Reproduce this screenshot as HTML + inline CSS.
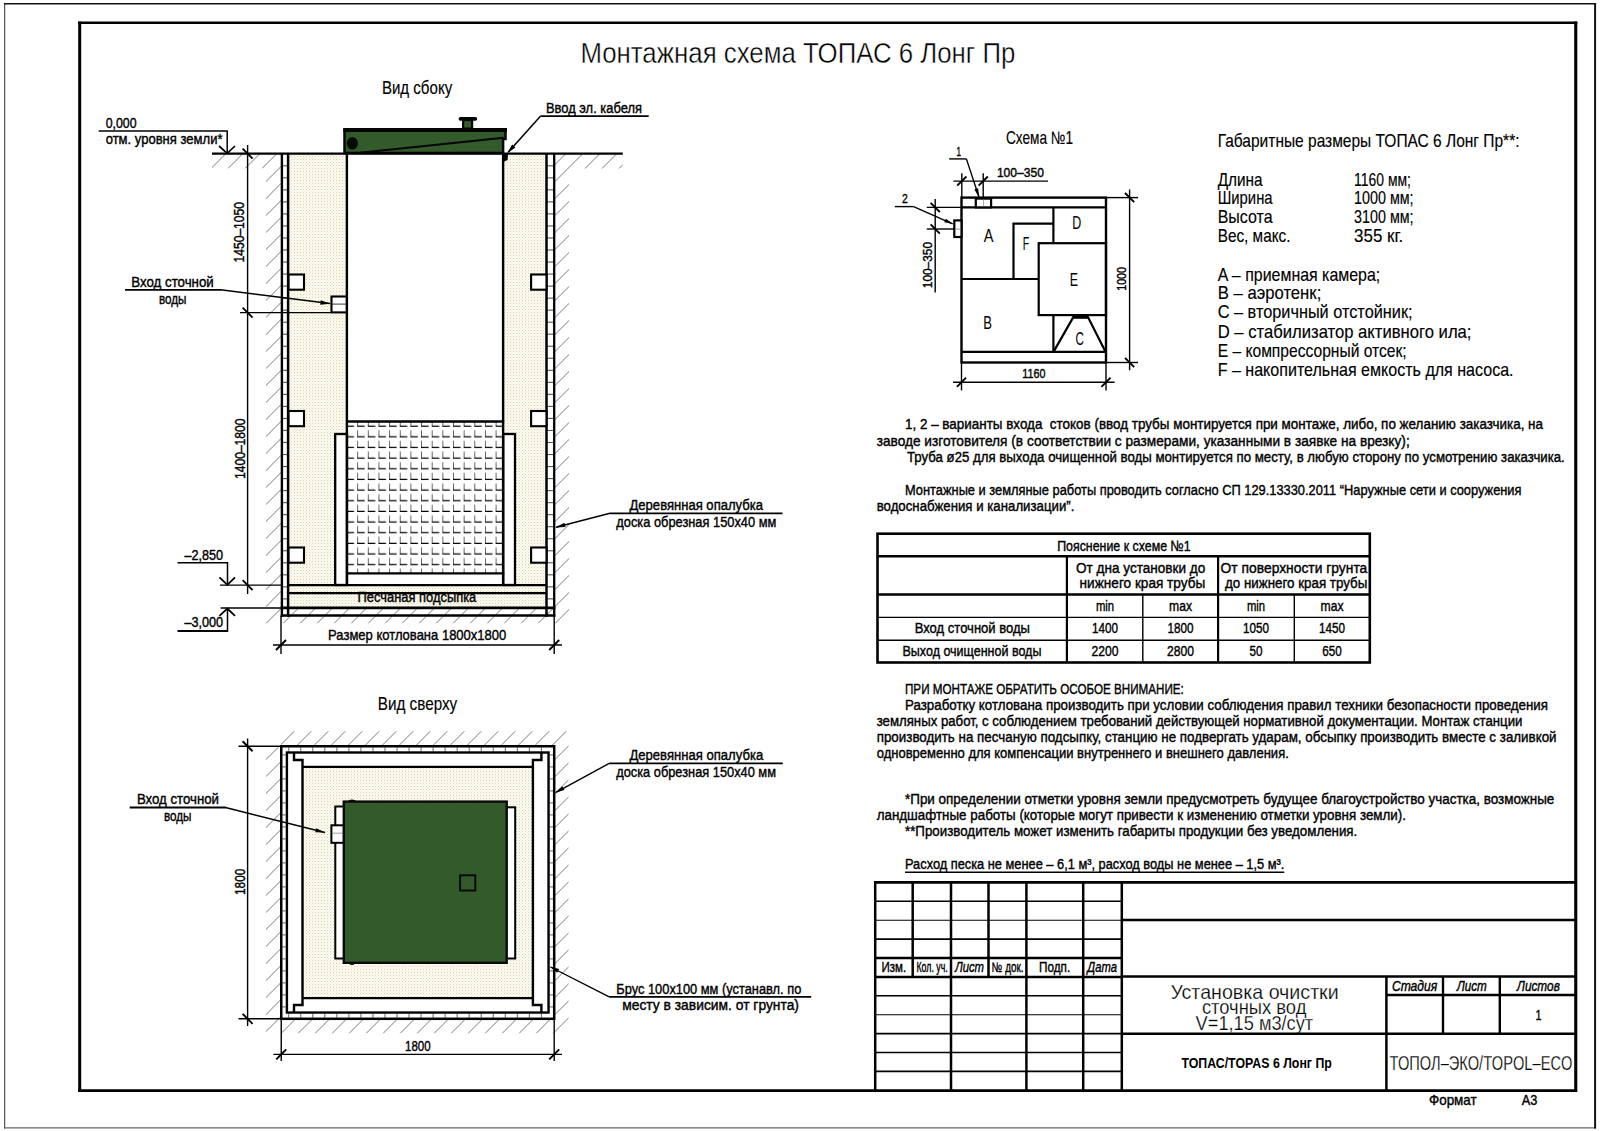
<!DOCTYPE html>
<html lang="ru"><head><meta charset="utf-8"><title>Монтажная схема ТОПАС 6 Лонг Пр</title>
<style>
html,body{margin:0;padding:0;background:#fff;}
body{width:1600px;height:1131px;overflow:hidden;}
svg{display:block;}
text{font-family:"Liberation Sans",sans-serif;fill:#000;stroke:#000;stroke-width:0.4px;}
text.thin{stroke:#fff;stroke-width:0.4px;}
text.thin2{stroke:#fff;stroke-width:0.25px;}
text.mid{stroke:none;}
text.s16{stroke-width:0.15px;}
</style></head><body>
<svg width="1600" height="1131" viewBox="0 0 1600 1131">
<defs>
<pattern id="sand" width="3" height="3" patternUnits="userSpaceOnUse">
<rect width="3" height="3" fill="#fcfbf3"/>
<rect x="0" y="0" width="1" height="1" fill="#d9d5a8"/>
<rect x="1.5" y="1.5" width="1" height="1" fill="#e8e5c6"/>
</pattern>
<pattern id="water" width="10.65" height="10.65" patternUnits="userSpaceOnUse" x="346.5" y="426.8">
<path d="M0,3.4 V10.65 M0,10.15 H7.5" stroke="#000" stroke-width="1.2" fill="none"/>
</pattern>
</defs>
<line x1="4.65" y1="3" x2="4.65" y2="1128.5" stroke="#444" stroke-width="1.1" />
<line x1="4.1" y1="1127.9" x2="1596" y2="1127.9" stroke="#666" stroke-width="1.2" />
<line x1="4.1" y1="3.8" x2="1596.1" y2="3.8" stroke="#111" stroke-width="1.6" />
<line x1="1595.1" y1="3" x2="1595.1" y2="1128.5" stroke="#111" stroke-width="2" />
<line x1="79.7" y1="21.4" x2="79.7" y2="1092" stroke="#000" stroke-width="3" />
<line x1="1575.75" y1="21.4" x2="1575.75" y2="1092" stroke="#000" stroke-width="3.1" />
<line x1="78.2" y1="22.7" x2="1577.3" y2="22.7" stroke="#000" stroke-width="2.6" />
<line x1="78.1" y1="1090.6" x2="1577" y2="1090.6" stroke="#000" stroke-width="2.8" />
<clipPath id="h1">
<rect x="212" y="153.6" width="69" height="14.6"/>
<rect x="266" y="153.6" width="15" height="470"/>
<rect x="266" y="608" width="302.5" height="15.3"/>
<rect x="555" y="153.6" width="14" height="470"/>
<rect x="555" y="153.6" width="67.6" height="14.8"/>
</clipPath>
<g clip-path="url(#h1)" stroke="#6a6a6a" stroke-width="0.9">
<line x1="178.5" y1="150" x2="-301.5" y2="630"/>
<line x1="195.5" y1="150" x2="-284.5" y2="630"/>
<line x1="212.5" y1="150" x2="-267.5" y2="630"/>
<line x1="229.5" y1="150" x2="-250.5" y2="630"/>
<line x1="246.5" y1="150" x2="-233.5" y2="630"/>
<line x1="263.5" y1="150" x2="-216.5" y2="630"/>
<line x1="280.5" y1="150" x2="-199.5" y2="630"/>
<line x1="297.5" y1="150" x2="-182.5" y2="630"/>
<line x1="314.5" y1="150" x2="-165.5" y2="630"/>
<line x1="331.5" y1="150" x2="-148.5" y2="630"/>
<line x1="348.5" y1="150" x2="-131.5" y2="630"/>
<line x1="365.5" y1="150" x2="-114.5" y2="630"/>
<line x1="382.5" y1="150" x2="-97.5" y2="630"/>
<line x1="399.5" y1="150" x2="-80.5" y2="630"/>
<line x1="416.5" y1="150" x2="-63.5" y2="630"/>
<line x1="433.5" y1="150" x2="-46.5" y2="630"/>
<line x1="450.5" y1="150" x2="-29.5" y2="630"/>
<line x1="467.5" y1="150" x2="-12.5" y2="630"/>
<line x1="484.5" y1="150" x2="4.5" y2="630"/>
<line x1="501.5" y1="150" x2="21.5" y2="630"/>
<line x1="518.5" y1="150" x2="38.5" y2="630"/>
<line x1="535.5" y1="150" x2="55.5" y2="630"/>
<line x1="552.5" y1="150" x2="72.5" y2="630"/>
<line x1="569.5" y1="150" x2="89.5" y2="630"/>
<line x1="586.5" y1="150" x2="106.5" y2="630"/>
<line x1="603.5" y1="150" x2="123.5" y2="630"/>
<line x1="620.5" y1="150" x2="140.5" y2="630"/>
<line x1="637.5" y1="150" x2="157.5" y2="630"/>
<line x1="654.5" y1="150" x2="174.5" y2="630"/>
<line x1="671.5" y1="150" x2="191.5" y2="630"/>
<line x1="688.5" y1="150" x2="208.5" y2="630"/>
<line x1="705.5" y1="150" x2="225.5" y2="630"/>
<line x1="722.5" y1="150" x2="242.5" y2="630"/>
<line x1="739.5" y1="150" x2="259.5" y2="630"/>
<line x1="756.5" y1="150" x2="276.5" y2="630"/>
<line x1="773.5" y1="150" x2="293.5" y2="630"/>
<line x1="790.5" y1="150" x2="310.5" y2="630"/>
<line x1="807.5" y1="150" x2="327.5" y2="630"/>
<line x1="824.5" y1="150" x2="344.5" y2="630"/>
<line x1="841.5" y1="150" x2="361.5" y2="630"/>
<line x1="858.5" y1="150" x2="378.5" y2="630"/>
<line x1="875.5" y1="150" x2="395.5" y2="630"/>
<line x1="892.5" y1="150" x2="412.5" y2="630"/>
<line x1="909.5" y1="150" x2="429.5" y2="630"/>
<line x1="926.5" y1="150" x2="446.5" y2="630"/>
<line x1="943.5" y1="150" x2="463.5" y2="630"/>
<line x1="960.5" y1="150" x2="480.5" y2="630"/>
<line x1="977.5" y1="150" x2="497.5" y2="630"/>
<line x1="994.5" y1="150" x2="514.5" y2="630"/>
<line x1="1011.5" y1="150" x2="531.5" y2="630"/>
<line x1="1028.5" y1="150" x2="548.5" y2="630"/>
<line x1="1045.5" y1="150" x2="565.5" y2="630"/>
<line x1="1062.5" y1="150" x2="582.5" y2="630"/>
<line x1="1079.5" y1="150" x2="599.5" y2="630"/>
<line x1="1096.5" y1="150" x2="616.5" y2="630"/>
<line x1="1113.5" y1="150" x2="633.5" y2="630"/>
<line x1="1130.5" y1="150" x2="650.5" y2="630"/>
</g>
<rect x="288" y="153.6" width="59" height="432" fill="url(#sand)"  />
<rect x="503" y="153.6" width="44" height="432" fill="url(#sand)"  />
<rect x="288" y="585" width="259" height="23" fill="url(#sand)"  />
<rect x="347" y="153.6" width="156" height="432" fill="#fff"  />
<rect x="347" y="421.5" width="156" height="152" fill="url(#water)"  />
<line x1="282" y1="165.8" x2="288" y2="165.8" stroke="#555" stroke-width="1.1" />
<line x1="546.5" y1="165.8" x2="554" y2="165.8" stroke="#555" stroke-width="1.1" />
<line x1="282" y1="177.83" x2="288" y2="177.83" stroke="#555" stroke-width="1.1" />
<line x1="546.5" y1="177.83" x2="554" y2="177.83" stroke="#555" stroke-width="1.1" />
<line x1="282" y1="189.86" x2="288" y2="189.86" stroke="#555" stroke-width="1.1" />
<line x1="546.5" y1="189.86" x2="554" y2="189.86" stroke="#555" stroke-width="1.1" />
<line x1="282" y1="201.89000000000001" x2="288" y2="201.89000000000001" stroke="#555" stroke-width="1.1" />
<line x1="546.5" y1="201.89000000000001" x2="554" y2="201.89000000000001" stroke="#555" stroke-width="1.1" />
<line x1="282" y1="213.92000000000002" x2="288" y2="213.92000000000002" stroke="#555" stroke-width="1.1" />
<line x1="546.5" y1="213.92000000000002" x2="554" y2="213.92000000000002" stroke="#555" stroke-width="1.1" />
<line x1="282" y1="225.95000000000002" x2="288" y2="225.95000000000002" stroke="#555" stroke-width="1.1" />
<line x1="546.5" y1="225.95000000000002" x2="554" y2="225.95000000000002" stroke="#555" stroke-width="1.1" />
<line x1="282" y1="237.98000000000002" x2="288" y2="237.98000000000002" stroke="#555" stroke-width="1.1" />
<line x1="546.5" y1="237.98000000000002" x2="554" y2="237.98000000000002" stroke="#555" stroke-width="1.1" />
<line x1="282" y1="250.01" x2="288" y2="250.01" stroke="#555" stroke-width="1.1" />
<line x1="546.5" y1="250.01" x2="554" y2="250.01" stroke="#555" stroke-width="1.1" />
<line x1="282" y1="262.04" x2="288" y2="262.04" stroke="#555" stroke-width="1.1" />
<line x1="546.5" y1="262.04" x2="554" y2="262.04" stroke="#555" stroke-width="1.1" />
<line x1="282" y1="274.07" x2="288" y2="274.07" stroke="#555" stroke-width="1.1" />
<line x1="546.5" y1="274.07" x2="554" y2="274.07" stroke="#555" stroke-width="1.1" />
<line x1="282" y1="286.1" x2="288" y2="286.1" stroke="#555" stroke-width="1.1" />
<line x1="546.5" y1="286.1" x2="554" y2="286.1" stroke="#555" stroke-width="1.1" />
<line x1="282" y1="298.13" x2="288" y2="298.13" stroke="#555" stroke-width="1.1" />
<line x1="546.5" y1="298.13" x2="554" y2="298.13" stroke="#555" stroke-width="1.1" />
<line x1="282" y1="310.15999999999997" x2="288" y2="310.15999999999997" stroke="#555" stroke-width="1.1" />
<line x1="546.5" y1="310.15999999999997" x2="554" y2="310.15999999999997" stroke="#555" stroke-width="1.1" />
<line x1="282" y1="322.19" x2="288" y2="322.19" stroke="#555" stroke-width="1.1" />
<line x1="546.5" y1="322.19" x2="554" y2="322.19" stroke="#555" stroke-width="1.1" />
<line x1="282" y1="334.22" x2="288" y2="334.22" stroke="#555" stroke-width="1.1" />
<line x1="546.5" y1="334.22" x2="554" y2="334.22" stroke="#555" stroke-width="1.1" />
<line x1="282" y1="346.25" x2="288" y2="346.25" stroke="#555" stroke-width="1.1" />
<line x1="546.5" y1="346.25" x2="554" y2="346.25" stroke="#555" stroke-width="1.1" />
<line x1="282" y1="358.28" x2="288" y2="358.28" stroke="#555" stroke-width="1.1" />
<line x1="546.5" y1="358.28" x2="554" y2="358.28" stroke="#555" stroke-width="1.1" />
<line x1="282" y1="370.31" x2="288" y2="370.31" stroke="#555" stroke-width="1.1" />
<line x1="546.5" y1="370.31" x2="554" y2="370.31" stroke="#555" stroke-width="1.1" />
<line x1="282" y1="382.34000000000003" x2="288" y2="382.34000000000003" stroke="#555" stroke-width="1.1" />
<line x1="546.5" y1="382.34000000000003" x2="554" y2="382.34000000000003" stroke="#555" stroke-width="1.1" />
<line x1="282" y1="394.37" x2="288" y2="394.37" stroke="#555" stroke-width="1.1" />
<line x1="546.5" y1="394.37" x2="554" y2="394.37" stroke="#555" stroke-width="1.1" />
<line x1="282" y1="406.4" x2="288" y2="406.4" stroke="#555" stroke-width="1.1" />
<line x1="546.5" y1="406.4" x2="554" y2="406.4" stroke="#555" stroke-width="1.1" />
<line x1="282" y1="418.43" x2="288" y2="418.43" stroke="#555" stroke-width="1.1" />
<line x1="546.5" y1="418.43" x2="554" y2="418.43" stroke="#555" stroke-width="1.1" />
<line x1="282" y1="430.46" x2="288" y2="430.46" stroke="#555" stroke-width="1.1" />
<line x1="546.5" y1="430.46" x2="554" y2="430.46" stroke="#555" stroke-width="1.1" />
<line x1="282" y1="442.49" x2="288" y2="442.49" stroke="#555" stroke-width="1.1" />
<line x1="546.5" y1="442.49" x2="554" y2="442.49" stroke="#555" stroke-width="1.1" />
<line x1="282" y1="454.52" x2="288" y2="454.52" stroke="#555" stroke-width="1.1" />
<line x1="546.5" y1="454.52" x2="554" y2="454.52" stroke="#555" stroke-width="1.1" />
<line x1="282" y1="466.55" x2="288" y2="466.55" stroke="#555" stroke-width="1.1" />
<line x1="546.5" y1="466.55" x2="554" y2="466.55" stroke="#555" stroke-width="1.1" />
<line x1="282" y1="478.58" x2="288" y2="478.58" stroke="#555" stroke-width="1.1" />
<line x1="546.5" y1="478.58" x2="554" y2="478.58" stroke="#555" stroke-width="1.1" />
<line x1="282" y1="490.61" x2="288" y2="490.61" stroke="#555" stroke-width="1.1" />
<line x1="546.5" y1="490.61" x2="554" y2="490.61" stroke="#555" stroke-width="1.1" />
<line x1="282" y1="502.64" x2="288" y2="502.64" stroke="#555" stroke-width="1.1" />
<line x1="546.5" y1="502.64" x2="554" y2="502.64" stroke="#555" stroke-width="1.1" />
<line x1="282" y1="514.6700000000001" x2="288" y2="514.6700000000001" stroke="#555" stroke-width="1.1" />
<line x1="546.5" y1="514.6700000000001" x2="554" y2="514.6700000000001" stroke="#555" stroke-width="1.1" />
<line x1="282" y1="526.7" x2="288" y2="526.7" stroke="#555" stroke-width="1.1" />
<line x1="546.5" y1="526.7" x2="554" y2="526.7" stroke="#555" stroke-width="1.1" />
<line x1="282" y1="538.73" x2="288" y2="538.73" stroke="#555" stroke-width="1.1" />
<line x1="546.5" y1="538.73" x2="554" y2="538.73" stroke="#555" stroke-width="1.1" />
<line x1="282" y1="550.76" x2="288" y2="550.76" stroke="#555" stroke-width="1.1" />
<line x1="546.5" y1="550.76" x2="554" y2="550.76" stroke="#555" stroke-width="1.1" />
<line x1="282" y1="562.79" x2="288" y2="562.79" stroke="#555" stroke-width="1.1" />
<line x1="546.5" y1="562.79" x2="554" y2="562.79" stroke="#555" stroke-width="1.1" />
<line x1="282" y1="574.8199999999999" x2="288" y2="574.8199999999999" stroke="#555" stroke-width="1.1" />
<line x1="546.5" y1="574.8199999999999" x2="554" y2="574.8199999999999" stroke="#555" stroke-width="1.1" />
<line x1="282" y1="586.8499999999999" x2="288" y2="586.8499999999999" stroke="#555" stroke-width="1.1" />
<line x1="546.5" y1="586.8499999999999" x2="554" y2="586.8499999999999" stroke="#555" stroke-width="1.1" />
<line x1="282" y1="598.88" x2="288" y2="598.88" stroke="#555" stroke-width="1.1" />
<line x1="546.5" y1="598.88" x2="554" y2="598.88" stroke="#555" stroke-width="1.1" />
<line x1="281.9" y1="153" x2="281.9" y2="616.8" stroke="#000" stroke-width="2.4" />
<line x1="288.1" y1="153" x2="288.1" y2="616.8" stroke="#000" stroke-width="2.5" />
<line x1="546.5" y1="153" x2="546.5" y2="616.8" stroke="#000" stroke-width="2.5" />
<line x1="554.2" y1="153" x2="554.2" y2="616.8" stroke="#000" stroke-width="2.3" />
<line x1="288" y1="585.1" x2="547" y2="585.1" stroke="#000" stroke-width="2.4" />
<line x1="288" y1="593.1" x2="547" y2="593.1" stroke="#000" stroke-width="2.4" />
<line x1="280.7" y1="607.9" x2="555.4" y2="607.9" stroke="#000" stroke-width="2.8" />
<line x1="280.7" y1="615.6" x2="555.4" y2="615.6" stroke="#000" stroke-width="2.5" />
<rect x="335.2" y="434" width="11.8" height="151" fill="#fff" stroke="#000" stroke-width="2.3" />
<rect x="503.2" y="434" width="11.8" height="151" fill="#fff" stroke="#000" stroke-width="2.3" />
<line x1="346.9" y1="153" x2="346.9" y2="585.5" stroke="#000" stroke-width="2.4" />
<line x1="503.1" y1="153" x2="503.1" y2="585.5" stroke="#000" stroke-width="2.4" />
<line x1="346" y1="421.5" x2="504.2" y2="421.5" stroke="#000" stroke-width="2.6" />
<line x1="346" y1="573.4" x2="504.2" y2="573.4" stroke="#000" stroke-width="2.2" />
<rect x="288.6" y="274.5" width="15.4" height="15.2" fill="#fff" stroke="#000" stroke-width="2.1" />
<rect x="531.1" y="274.5" width="15.4" height="15.2" fill="#fff" stroke="#000" stroke-width="2.1" />
<rect x="288.6" y="411" width="15.4" height="15.2" fill="#fff" stroke="#000" stroke-width="2.1" />
<rect x="531.1" y="411" width="15.4" height="15.2" fill="#fff" stroke="#000" stroke-width="2.1" />
<rect x="288.6" y="547.5" width="15.4" height="15.2" fill="#fff" stroke="#000" stroke-width="2.1" />
<rect x="531.1" y="547.5" width="15.4" height="15.2" fill="#fff" stroke="#000" stroke-width="2.1" />
<rect x="331.5" y="296.5" width="15.2" height="15.9" fill="#fff" stroke="#000" stroke-width="2.1" />
<line x1="332" y1="304.1" x2="346" y2="304.1" stroke="#222" stroke-width="0.9" />
<path d="M344.5,153 V129.6 H505.5 V139 H503.1 V153 Z" fill="#335a2a" stroke="#050505" stroke-width="2.5"/>
<line x1="343.3" y1="130" x2="507" y2="130" stroke="#050505" stroke-width="4" />
<line x1="360" y1="152.8" x2="503.6" y2="137.85" stroke="#050505" stroke-width="2" />
<ellipse cx="352.4" cy="143.2" rx="5.5" ry="6.3" fill="#050a05"/>
<rect x="463.1" y="120" width="9" height="8.6" fill="#335a2a" stroke="#050505" stroke-width="2.2" />
<line x1="460.4" y1="118.9" x2="475.4" y2="118.9" stroke="#050505" stroke-width="3.6" stroke-linecap="round"/>
<line x1="212" y1="153.6" x2="622.8" y2="153.6" stroke="#000" stroke-width="2.4" />
<path d="M503.2,154 V162 L507.6,160 L508,154 Z" fill="#000"/>
<line x1="247.6" y1="145" x2="247.6" y2="594" stroke="#000" stroke-width="1.4" />
<line x1="240" y1="312.6" x2="331" y2="312.6" stroke="#000" stroke-width="1.4" />
<line x1="220" y1="585.1" x2="281" y2="585.1" stroke="#000" stroke-width="1.4" />
<line x1="242.6" y1="148.6" x2="252.6" y2="158.6" stroke="#000" stroke-width="1.9" />
<line x1="242.6" y1="307.6" x2="252.6" y2="317.6" stroke="#000" stroke-width="1.9" />
<line x1="242.6" y1="580.1" x2="252.6" y2="590.1" stroke="#000" stroke-width="1.9" />
<text x="244.3" y="262.5" font-size="14.4" transform="rotate(-90 244.3 262.5)" textLength="60.5" lengthAdjust="spacingAndGlyphs">1450–1050</text>
<text x="244.5" y="479" font-size="14.4" transform="rotate(-90 244.5 479)" textLength="60.5" lengthAdjust="spacingAndGlyphs">1400–1800</text>
<text x="105.7" y="127.6" font-size="14.4" textLength="30.9" lengthAdjust="spacingAndGlyphs" >0,000</text>
<line x1="98.7" y1="131" x2="227.8" y2="131" stroke="#000" stroke-width="1.5" />
<line x1="227.2" y1="131" x2="227.2" y2="153" stroke="#000" stroke-width="1.5" />
<polyline points="219,146 227.2,153.4 235,146" fill="none" stroke="#000" stroke-width="1.7" />
<text x="105.7" y="144.2" font-size="14.9" textLength="116.8" lengthAdjust="spacingAndGlyphs" >отм. уровня земли*</text>
<text x="184.4" y="559.7" font-size="14.4" textLength="38.7" lengthAdjust="spacingAndGlyphs" >–2,850</text>
<line x1="177.5" y1="562.8" x2="228.2" y2="562.8" stroke="#000" stroke-width="1.5" />
<line x1="227.5" y1="562.8" x2="227.5" y2="584.5" stroke="#000" stroke-width="1.5" />
<polyline points="219.4,577.3 227.4,584.8 235,577.3" fill="none" stroke="#000" stroke-width="1.8" />
<line x1="220.6" y1="608" x2="281" y2="608" stroke="#000" stroke-width="1.4" />
<polyline points="219.4,615.8 227.4,608.5 235,615.8" fill="none" stroke="#000" stroke-width="1.8" />
<line x1="227.5" y1="608.5" x2="227.5" y2="631" stroke="#000" stroke-width="1.5" />
<line x1="177.5" y1="631" x2="228.2" y2="631" stroke="#000" stroke-width="1.8" />
<text x="184.4" y="627.3" font-size="14.4" textLength="38.7" lengthAdjust="spacingAndGlyphs" >–3,000</text>
<line x1="273" y1="645" x2="562" y2="645" stroke="#000" stroke-width="1.4" />
<line x1="281" y1="616" x2="281" y2="654" stroke="#000" stroke-width="1.4" />
<line x1="554.2" y1="616" x2="554.2" y2="654" stroke="#000" stroke-width="1.4" />
<line x1="276" y1="650" x2="286" y2="640" stroke="#000" stroke-width="1.9" />
<line x1="549.2" y1="650" x2="559.2" y2="640" stroke="#000" stroke-width="1.9" />
<text x="328.1" y="639.8" font-size="14.9" textLength="178.2" lengthAdjust="spacingAndGlyphs" >Размер котлована 1800х1800</text>
<text x="357.5" y="602" font-size="14.9" textLength="118.8" lengthAdjust="spacingAndGlyphs" >Песчаная подсыпка</text>
<text x="381.9" y="93.5" font-size="17.7" textLength="70.3" lengthAdjust="spacingAndGlyphs" class="s16" >Вид сбоку</text>
<text x="546" y="112.7" font-size="14.9" textLength="95.9" lengthAdjust="spacingAndGlyphs" >Ввод эл. кабеля</text>
<line x1="540.4" y1="116.2" x2="648.7" y2="116.2" stroke="#000" stroke-width="1.7" />
<line x1="540.4" y1="116.2" x2="508.2" y2="152.2" stroke="#000" stroke-width="1.5" />
<path d="M507.40,153.10 L515.37,147.49 L512.09,144.55 Z" fill="#000"/>
<text x="131.2" y="286.8" font-size="14.9" textLength="82.6" lengthAdjust="spacingAndGlyphs" >Вход сточной</text>
<text x="159" y="303.6" font-size="14.9" textLength="27.5" lengthAdjust="spacingAndGlyphs" >воды</text>
<line x1="125" y1="289.8" x2="221" y2="289.8" stroke="#000" stroke-width="1.8" />
<line x1="220.5" y1="289.8" x2="330" y2="303.6" stroke="#000" stroke-width="1.5" />
<path d="M330.40,303.70 L320.76,300.26 L320.20,304.63 Z" fill="#000"/>
<text x="629.5" y="510" font-size="14.9" textLength="133.5" lengthAdjust="spacingAndGlyphs" >Деревянная опалубка</text>
<text x="616.3" y="527.4" font-size="14.9" textLength="160.0" lengthAdjust="spacingAndGlyphs" >доска обрезная 150х40 мм</text>
<line x1="610" y1="513.3" x2="782.5" y2="513.3" stroke="#000" stroke-width="1.7" />
<line x1="610" y1="513.3" x2="556" y2="527.3" stroke="#000" stroke-width="1.4" />
<path d="M555.30,527.50 L565.53,527.12 L564.43,522.86 Z" fill="#000"/>
<clipPath id="h2">
<rect x="281" y="731.3" width="287.5" height="15"/>
<rect x="266" y="746.25" width="15.3" height="287"/>
<rect x="554.2" y="731.3" width="14.3" height="302"/>
<rect x="266" y="1018.8" width="302.5" height="14.5"/>
</clipPath>
<g clip-path="url(#h2)" stroke="#6a6a6a" stroke-width="0.9">
<line x1="232.5" y1="725" x2="-82.5" y2="1040"/>
<line x1="249.5" y1="725" x2="-65.5" y2="1040"/>
<line x1="266.5" y1="725" x2="-48.5" y2="1040"/>
<line x1="283.5" y1="725" x2="-31.5" y2="1040"/>
<line x1="300.5" y1="725" x2="-14.5" y2="1040"/>
<line x1="317.5" y1="725" x2="2.5" y2="1040"/>
<line x1="334.5" y1="725" x2="19.5" y2="1040"/>
<line x1="351.5" y1="725" x2="36.5" y2="1040"/>
<line x1="368.5" y1="725" x2="53.5" y2="1040"/>
<line x1="385.5" y1="725" x2="70.5" y2="1040"/>
<line x1="402.5" y1="725" x2="87.5" y2="1040"/>
<line x1="419.5" y1="725" x2="104.5" y2="1040"/>
<line x1="436.5" y1="725" x2="121.5" y2="1040"/>
<line x1="453.5" y1="725" x2="138.5" y2="1040"/>
<line x1="470.5" y1="725" x2="155.5" y2="1040"/>
<line x1="487.5" y1="725" x2="172.5" y2="1040"/>
<line x1="504.5" y1="725" x2="189.5" y2="1040"/>
<line x1="521.5" y1="725" x2="206.5" y2="1040"/>
<line x1="538.5" y1="725" x2="223.5" y2="1040"/>
<line x1="555.5" y1="725" x2="240.5" y2="1040"/>
<line x1="572.5" y1="725" x2="257.5" y2="1040"/>
<line x1="589.5" y1="725" x2="274.5" y2="1040"/>
<line x1="606.5" y1="725" x2="291.5" y2="1040"/>
<line x1="623.5" y1="725" x2="308.5" y2="1040"/>
<line x1="640.5" y1="725" x2="325.5" y2="1040"/>
<line x1="657.5" y1="725" x2="342.5" y2="1040"/>
<line x1="674.5" y1="725" x2="359.5" y2="1040"/>
<line x1="691.5" y1="725" x2="376.5" y2="1040"/>
<line x1="708.5" y1="725" x2="393.5" y2="1040"/>
<line x1="725.5" y1="725" x2="410.5" y2="1040"/>
<line x1="742.5" y1="725" x2="427.5" y2="1040"/>
<line x1="759.5" y1="725" x2="444.5" y2="1040"/>
<line x1="776.5" y1="725" x2="461.5" y2="1040"/>
<line x1="793.5" y1="725" x2="478.5" y2="1040"/>
<line x1="810.5" y1="725" x2="495.5" y2="1040"/>
<line x1="827.5" y1="725" x2="512.5" y2="1040"/>
<line x1="844.5" y1="725" x2="529.5" y2="1040"/>
<line x1="861.5" y1="725" x2="546.5" y2="1040"/>
<line x1="878.5" y1="725" x2="563.5" y2="1040"/>
<line x1="895.5" y1="725" x2="580.5" y2="1040"/>
</g>
<rect x="281.25" y="746.25" width="272.95" height="272.55" fill="#fff"  />
<rect x="302.5" y="766.9" width="230.4" height="231.2" fill="url(#sand)"  />
<line x1="288.75" y1="747.3" x2="288.75" y2="751.6" stroke="#555" stroke-width="0.9" />
<line x1="288.75" y1="1013.4" x2="288.75" y2="1017.8" stroke="#555" stroke-width="0.9" />
<line x1="282.3" y1="754.9" x2="285.9" y2="754.9" stroke="#555" stroke-width="0.9" />
<line x1="549.4" y1="754.9" x2="553.2" y2="754.9" stroke="#555" stroke-width="0.9" />
<line x1="300.78" y1="747.3" x2="300.78" y2="751.6" stroke="#555" stroke-width="0.9" />
<line x1="300.78" y1="1013.4" x2="300.78" y2="1017.8" stroke="#555" stroke-width="0.9" />
<line x1="282.3" y1="766.9" x2="285.9" y2="766.9" stroke="#555" stroke-width="0.9" />
<line x1="549.4" y1="766.9" x2="553.2" y2="766.9" stroke="#555" stroke-width="0.9" />
<line x1="312.81" y1="747.3" x2="312.81" y2="751.6" stroke="#555" stroke-width="0.9" />
<line x1="312.81" y1="1013.4" x2="312.81" y2="1017.8" stroke="#555" stroke-width="0.9" />
<line x1="282.3" y1="778.9" x2="285.9" y2="778.9" stroke="#555" stroke-width="0.9" />
<line x1="549.4" y1="778.9" x2="553.2" y2="778.9" stroke="#555" stroke-width="0.9" />
<line x1="324.84" y1="747.3" x2="324.84" y2="751.6" stroke="#555" stroke-width="0.9" />
<line x1="324.84" y1="1013.4" x2="324.84" y2="1017.8" stroke="#555" stroke-width="0.9" />
<line x1="282.3" y1="790.9" x2="285.9" y2="790.9" stroke="#555" stroke-width="0.9" />
<line x1="549.4" y1="790.9" x2="553.2" y2="790.9" stroke="#555" stroke-width="0.9" />
<line x1="336.87" y1="747.3" x2="336.87" y2="751.6" stroke="#555" stroke-width="0.9" />
<line x1="336.87" y1="1013.4" x2="336.87" y2="1017.8" stroke="#555" stroke-width="0.9" />
<line x1="282.3" y1="802.9" x2="285.9" y2="802.9" stroke="#555" stroke-width="0.9" />
<line x1="549.4" y1="802.9" x2="553.2" y2="802.9" stroke="#555" stroke-width="0.9" />
<line x1="348.9" y1="747.3" x2="348.9" y2="751.6" stroke="#555" stroke-width="0.9" />
<line x1="348.9" y1="1013.4" x2="348.9" y2="1017.8" stroke="#555" stroke-width="0.9" />
<line x1="282.3" y1="814.9" x2="285.9" y2="814.9" stroke="#555" stroke-width="0.9" />
<line x1="549.4" y1="814.9" x2="553.2" y2="814.9" stroke="#555" stroke-width="0.9" />
<line x1="360.93" y1="747.3" x2="360.93" y2="751.6" stroke="#555" stroke-width="0.9" />
<line x1="360.93" y1="1013.4" x2="360.93" y2="1017.8" stroke="#555" stroke-width="0.9" />
<line x1="282.3" y1="826.9" x2="285.9" y2="826.9" stroke="#555" stroke-width="0.9" />
<line x1="549.4" y1="826.9" x2="553.2" y2="826.9" stroke="#555" stroke-width="0.9" />
<line x1="372.96" y1="747.3" x2="372.96" y2="751.6" stroke="#555" stroke-width="0.9" />
<line x1="372.96" y1="1013.4" x2="372.96" y2="1017.8" stroke="#555" stroke-width="0.9" />
<line x1="282.3" y1="838.9" x2="285.9" y2="838.9" stroke="#555" stroke-width="0.9" />
<line x1="549.4" y1="838.9" x2="553.2" y2="838.9" stroke="#555" stroke-width="0.9" />
<line x1="384.99" y1="747.3" x2="384.99" y2="751.6" stroke="#555" stroke-width="0.9" />
<line x1="384.99" y1="1013.4" x2="384.99" y2="1017.8" stroke="#555" stroke-width="0.9" />
<line x1="282.3" y1="850.9" x2="285.9" y2="850.9" stroke="#555" stroke-width="0.9" />
<line x1="549.4" y1="850.9" x2="553.2" y2="850.9" stroke="#555" stroke-width="0.9" />
<line x1="397.02" y1="747.3" x2="397.02" y2="751.6" stroke="#555" stroke-width="0.9" />
<line x1="397.02" y1="1013.4" x2="397.02" y2="1017.8" stroke="#555" stroke-width="0.9" />
<line x1="282.3" y1="862.9" x2="285.9" y2="862.9" stroke="#555" stroke-width="0.9" />
<line x1="549.4" y1="862.9" x2="553.2" y2="862.9" stroke="#555" stroke-width="0.9" />
<line x1="409.05" y1="747.3" x2="409.05" y2="751.6" stroke="#555" stroke-width="0.9" />
<line x1="409.05" y1="1013.4" x2="409.05" y2="1017.8" stroke="#555" stroke-width="0.9" />
<line x1="282.3" y1="874.9" x2="285.9" y2="874.9" stroke="#555" stroke-width="0.9" />
<line x1="549.4" y1="874.9" x2="553.2" y2="874.9" stroke="#555" stroke-width="0.9" />
<line x1="421.08" y1="747.3" x2="421.08" y2="751.6" stroke="#555" stroke-width="0.9" />
<line x1="421.08" y1="1013.4" x2="421.08" y2="1017.8" stroke="#555" stroke-width="0.9" />
<line x1="282.3" y1="886.9" x2="285.9" y2="886.9" stroke="#555" stroke-width="0.9" />
<line x1="549.4" y1="886.9" x2="553.2" y2="886.9" stroke="#555" stroke-width="0.9" />
<line x1="433.11" y1="747.3" x2="433.11" y2="751.6" stroke="#555" stroke-width="0.9" />
<line x1="433.11" y1="1013.4" x2="433.11" y2="1017.8" stroke="#555" stroke-width="0.9" />
<line x1="282.3" y1="898.9" x2="285.9" y2="898.9" stroke="#555" stroke-width="0.9" />
<line x1="549.4" y1="898.9" x2="553.2" y2="898.9" stroke="#555" stroke-width="0.9" />
<line x1="445.14" y1="747.3" x2="445.14" y2="751.6" stroke="#555" stroke-width="0.9" />
<line x1="445.14" y1="1013.4" x2="445.14" y2="1017.8" stroke="#555" stroke-width="0.9" />
<line x1="282.3" y1="910.9" x2="285.9" y2="910.9" stroke="#555" stroke-width="0.9" />
<line x1="549.4" y1="910.9" x2="553.2" y2="910.9" stroke="#555" stroke-width="0.9" />
<line x1="457.16999999999996" y1="747.3" x2="457.16999999999996" y2="751.6" stroke="#555" stroke-width="0.9" />
<line x1="457.16999999999996" y1="1013.4" x2="457.16999999999996" y2="1017.8" stroke="#555" stroke-width="0.9" />
<line x1="282.3" y1="922.9" x2="285.9" y2="922.9" stroke="#555" stroke-width="0.9" />
<line x1="549.4" y1="922.9" x2="553.2" y2="922.9" stroke="#555" stroke-width="0.9" />
<line x1="469.2" y1="747.3" x2="469.2" y2="751.6" stroke="#555" stroke-width="0.9" />
<line x1="469.2" y1="1013.4" x2="469.2" y2="1017.8" stroke="#555" stroke-width="0.9" />
<line x1="282.3" y1="934.9" x2="285.9" y2="934.9" stroke="#555" stroke-width="0.9" />
<line x1="549.4" y1="934.9" x2="553.2" y2="934.9" stroke="#555" stroke-width="0.9" />
<line x1="481.23" y1="747.3" x2="481.23" y2="751.6" stroke="#555" stroke-width="0.9" />
<line x1="481.23" y1="1013.4" x2="481.23" y2="1017.8" stroke="#555" stroke-width="0.9" />
<line x1="282.3" y1="946.9" x2="285.9" y2="946.9" stroke="#555" stroke-width="0.9" />
<line x1="549.4" y1="946.9" x2="553.2" y2="946.9" stroke="#555" stroke-width="0.9" />
<line x1="493.26" y1="747.3" x2="493.26" y2="751.6" stroke="#555" stroke-width="0.9" />
<line x1="493.26" y1="1013.4" x2="493.26" y2="1017.8" stroke="#555" stroke-width="0.9" />
<line x1="282.3" y1="958.9" x2="285.9" y2="958.9" stroke="#555" stroke-width="0.9" />
<line x1="549.4" y1="958.9" x2="553.2" y2="958.9" stroke="#555" stroke-width="0.9" />
<line x1="505.28999999999996" y1="747.3" x2="505.28999999999996" y2="751.6" stroke="#555" stroke-width="0.9" />
<line x1="505.28999999999996" y1="1013.4" x2="505.28999999999996" y2="1017.8" stroke="#555" stroke-width="0.9" />
<line x1="282.3" y1="970.9" x2="285.9" y2="970.9" stroke="#555" stroke-width="0.9" />
<line x1="549.4" y1="970.9" x2="553.2" y2="970.9" stroke="#555" stroke-width="0.9" />
<line x1="517.3199999999999" y1="747.3" x2="517.3199999999999" y2="751.6" stroke="#555" stroke-width="0.9" />
<line x1="517.3199999999999" y1="1013.4" x2="517.3199999999999" y2="1017.8" stroke="#555" stroke-width="0.9" />
<line x1="282.3" y1="982.9" x2="285.9" y2="982.9" stroke="#555" stroke-width="0.9" />
<line x1="549.4" y1="982.9" x2="553.2" y2="982.9" stroke="#555" stroke-width="0.9" />
<line x1="529.35" y1="747.3" x2="529.35" y2="751.6" stroke="#555" stroke-width="0.9" />
<line x1="529.35" y1="1013.4" x2="529.35" y2="1017.8" stroke="#555" stroke-width="0.9" />
<line x1="282.3" y1="994.9" x2="285.9" y2="994.9" stroke="#555" stroke-width="0.9" />
<line x1="549.4" y1="994.9" x2="553.2" y2="994.9" stroke="#555" stroke-width="0.9" />
<line x1="541.38" y1="747.3" x2="541.38" y2="751.6" stroke="#555" stroke-width="0.9" />
<line x1="541.38" y1="1013.4" x2="541.38" y2="1017.8" stroke="#555" stroke-width="0.9" />
<line x1="282.3" y1="1006.9" x2="285.9" y2="1006.9" stroke="#555" stroke-width="0.9" />
<line x1="549.4" y1="1006.9" x2="553.2" y2="1006.9" stroke="#555" stroke-width="0.9" />
<rect x="281.25" y="746.25" width="272.95" height="272.55" fill="none" stroke="#000" stroke-width="2.5" />
<rect x="286.9" y="752.5" width="261.65" height="260.05" fill="none" stroke="#000" stroke-width="2.4" />
<path d="M294,752.5 V760 H302.5 V1005 H294 V1012.5 M541.4,752.5 V760 H532.9 V1005 H541.4 V1012.5 M302.5,766.9 H532.9 M302.5,998.1 H532.9" fill="none" stroke="#000" stroke-width="2.4"/>
<rect x="335.3" y="806.5" width="9" height="152" fill="#fff" stroke="#000" stroke-width="2" />
<rect x="506" y="807.3" width="9.2" height="151.2" fill="#fff" stroke="#000" stroke-width="2" />
<rect x="331.4" y="825.3" width="12.5" height="17.5" fill="#fff" stroke="#000" stroke-width="2" />
<line x1="332.5" y1="833.2" x2="343" y2="833.2" stroke="#888" stroke-width="0.8" />
<path d="M348,801 q1,-1.6 4,-1.6 q3,0 4,1.6 Z M349,963.4 q1,1.6 3,1.6 q2,0 3,-1.6 Z" fill="#0a0a0a"/>
<rect x="343.8" y="801.6" width="162.9" height="161.2" fill="#335a2a" stroke="#0a0a0a" stroke-width="2.4" />
<rect x="460.1" y="875.3" width="15.2" height="15.2" fill="none" stroke="#0a0a0a" stroke-width="2" />
<line x1="247.6" y1="738.5" x2="247.6" y2="1026" stroke="#000" stroke-width="1.4" />
<line x1="238.5" y1="746.25" x2="281" y2="746.25" stroke="#000" stroke-width="1.4" />
<line x1="238.5" y1="1018.8" x2="281" y2="1018.8" stroke="#000" stroke-width="1.4" />
<line x1="242.6" y1="741.25" x2="252.6" y2="751.25" stroke="#000" stroke-width="1.9" />
<line x1="242.6" y1="1013.8" x2="252.6" y2="1023.8" stroke="#000" stroke-width="1.9" />
<text x="244.6" y="895" font-size="14.4" transform="rotate(-90 244.6 895)" textLength="26.3" lengthAdjust="spacingAndGlyphs">1800</text>
<line x1="273.4" y1="1054.4" x2="562" y2="1054.4" stroke="#000" stroke-width="1.4" />
<line x1="281.25" y1="1020" x2="281.25" y2="1061" stroke="#000" stroke-width="1.4" />
<line x1="554.2" y1="1020" x2="554.2" y2="1061" stroke="#000" stroke-width="1.4" />
<line x1="276.25" y1="1059.4" x2="286.25" y2="1049.4" stroke="#000" stroke-width="1.9" />
<line x1="549.2" y1="1059.4" x2="559.2" y2="1049.4" stroke="#000" stroke-width="1.9" />
<text x="405" y="1051.3" font-size="14.4" textLength="25.6" lengthAdjust="spacingAndGlyphs" >1800</text>
<text x="377.8" y="710.3" font-size="17.7" textLength="79.4" lengthAdjust="spacingAndGlyphs" class="s16" >Вид сверху</text>
<text x="136.9" y="804.4" font-size="14.9" textLength="82.1" lengthAdjust="spacingAndGlyphs" >Вход сточной</text>
<text x="163.9" y="820.9" font-size="14.9" textLength="27.5" lengthAdjust="spacingAndGlyphs" >воды</text>
<line x1="129.7" y1="807.5" x2="225.8" y2="807.5" stroke="#000" stroke-width="1.8" />
<line x1="225.5" y1="807.5" x2="325" y2="832.5" stroke="#000" stroke-width="1.4" />
<path d="M325.00,832.50 L316.30,828.15 L315.27,832.22 Z" fill="#000"/>
<text x="629.4" y="759.8" font-size="14.9" textLength="133.8" lengthAdjust="spacingAndGlyphs" >Деревянная опалубка</text>
<text x="616.2" y="776.8" font-size="14.9" textLength="159.8" lengthAdjust="spacingAndGlyphs" >доска обрезная 150х40 мм</text>
<line x1="609.2" y1="763.3" x2="782.8" y2="763.3" stroke="#000" stroke-width="1.7" />
<line x1="609.2" y1="763.3" x2="556" y2="792.3" stroke="#000" stroke-width="1.4" />
<path d="M555.10,792.70 L564.50,790.10 L562.40,786.23 Z" fill="#000"/>
<text x="616.3" y="993.8" font-size="14.9" textLength="185.0" lengthAdjust="spacingAndGlyphs" >Брус 100х100 мм (устанавл. по</text>
<text x="622.2" y="1010.3" font-size="14.9" textLength="176.8" lengthAdjust="spacingAndGlyphs" >месту в зависим. от грунта)</text>
<line x1="609.2" y1="996.9" x2="811.2" y2="996.9" stroke="#000" stroke-width="1.7" />
<line x1="609.2" y1="996.9" x2="550.5" y2="967" stroke="#000" stroke-width="1.4" />
<path d="M549.70,966.60 L557.17,972.87 L559.16,968.95 Z" fill="#000"/>
<text x="580.4" y="62.9" font-size="28.8" textLength="435.0" lengthAdjust="spacingAndGlyphs" class="thin" >Монтажная схема ТОПАС 6 Лонг Пр</text>
<text x="1005.9" y="144.1" font-size="17.7" textLength="67.2" lengthAdjust="spacingAndGlyphs" class="s16" >Схема №1</text>
<rect x="961.5" y="197.6" width="144.5" height="164.9" fill="#fff" stroke="#000" stroke-width="2.4" />
<line x1="961.5" y1="207.4" x2="1106" y2="207.4" stroke="#000" stroke-width="2.2" />
<line x1="961.5" y1="351.8" x2="1106" y2="351.8" stroke="#000" stroke-width="2.2" />
<line x1="1053.4" y1="207.4" x2="1053.4" y2="243.3" stroke="#000" stroke-width="2.2" />
<line x1="1053.4" y1="315" x2="1053.4" y2="351.8" stroke="#000" stroke-width="2.2" />
<polyline points="961.5,279 1038.7,279" fill="none" stroke="#000" stroke-width="2.2" />
<polyline points="1013.5,279 1013.5,223.6 1053.4,223.6" fill="none" stroke="#000" stroke-width="2.2" />
<rect x="1038.7" y="243.2" width="67.3" height="71.9" fill="none" stroke="#000" stroke-width="2.2" />
<polyline points="1053.8,351.4 1073.6,316.6 1087.7,316.6 1105.4,351.4" fill="none" stroke="#000" stroke-width="2.2" />
<line x1="1072.7" y1="317" x2="1088" y2="317" stroke="#000" stroke-width="3.6" />
<rect x="975.8" y="198.6" width="15.3" height="8.8" fill="#fff" stroke="#000" stroke-width="2.2" />
<line x1="983.6" y1="199.6" x2="983.6" y2="206.4" stroke="#888" stroke-width="0.8" />
<rect x="954.3" y="220.4" width="7.2" height="16.6" fill="#fff" stroke="#000" stroke-width="2.2" />
<line x1="955.3" y1="229" x2="960.5" y2="229" stroke="#888" stroke-width="0.8" />
<text x="983.7" y="242" font-size="17.8" textLength="9.7" lengthAdjust="spacingAndGlyphs" class="mid" >A</text>
<text x="983.3" y="328.5" font-size="17.8" textLength="8.7" lengthAdjust="spacingAndGlyphs" class="mid" >B</text>
<text x="1075.4" y="344.6" font-size="17.8" textLength="8.4" lengthAdjust="spacingAndGlyphs" class="mid" >C</text>
<text x="1072.3" y="229.2" font-size="17.8" textLength="9.0" lengthAdjust="spacingAndGlyphs" class="mid" >D</text>
<text x="1069.7" y="285.6" font-size="17.8" textLength="8.3" lengthAdjust="spacingAndGlyphs" class="mid" >E</text>
<text x="1022.8" y="250.3" font-size="17.8" textLength="6.5" lengthAdjust="spacingAndGlyphs" class="mid" >F</text>
<line x1="953.4" y1="181.1" x2="1048" y2="181.1" stroke="#000" stroke-width="1.4" />
<line x1="961.8" y1="173.3" x2="961.8" y2="197" stroke="#000" stroke-width="1.4" />
<line x1="983.2" y1="173.3" x2="983.2" y2="197.6" stroke="#000" stroke-width="1.4" />
<line x1="957.1999999999999" y1="185.7" x2="966.4" y2="176.5" stroke="#000" stroke-width="1.9" />
<line x1="978.6" y1="185.7" x2="987.8000000000001" y2="176.5" stroke="#000" stroke-width="1.9" />
<text x="996.9" y="177.3" font-size="13.4" textLength="47.1" lengthAdjust="spacingAndGlyphs" >100–350</text>
<text x="956.5" y="156" font-size="13.4" textLength="4.5" lengthAdjust="spacingAndGlyphs" >1</text>
<line x1="949.2" y1="158.9" x2="966.4" y2="158.9" stroke="#000" stroke-width="1.4" />
<line x1="966.4" y1="158.9" x2="978.8" y2="196.5" stroke="#000" stroke-width="1.4" />
<path d="M979.10,197.40 L978.18,188.23 L974.38,189.48 Z" fill="#000"/>
<text x="902" y="203.2" font-size="13.4" textLength="5.8" lengthAdjust="spacingAndGlyphs" >2</text>
<line x1="894.8" y1="206.6" x2="913.6" y2="206.6" stroke="#000" stroke-width="1.4" />
<line x1="913.6" y1="206.6" x2="952.6" y2="223.8" stroke="#000" stroke-width="1.4" />
<path d="M953.30,224.10 L945.87,218.64 L944.26,222.30 Z" fill="#000"/>
<line x1="935.2" y1="199.1" x2="935.2" y2="292.6" stroke="#000" stroke-width="1.4" />
<line x1="926.8" y1="207.4" x2="961.5" y2="207.4" stroke="#000" stroke-width="1.4" />
<line x1="926.8" y1="229" x2="954" y2="229" stroke="#000" stroke-width="1.4" />
<line x1="930.6" y1="202.8" x2="939.8000000000001" y2="212.0" stroke="#000" stroke-width="1.9" />
<line x1="930.6" y1="224.4" x2="939.8000000000001" y2="233.6" stroke="#000" stroke-width="1.9" />
<text x="932.5" y="288.2" font-size="13.4" transform="rotate(-90 932.5 288.2)" textLength="46.2" lengthAdjust="spacingAndGlyphs">100–350</text>
<line x1="1129.6" y1="189.5" x2="1129.6" y2="370.3" stroke="#000" stroke-width="1.4" />
<line x1="1106" y1="197.6" x2="1138" y2="197.6" stroke="#000" stroke-width="1.4" />
<line x1="1106" y1="362.5" x2="1138" y2="362.5" stroke="#000" stroke-width="1.4" />
<line x1="1125.0" y1="193.0" x2="1134.1999999999998" y2="202.2" stroke="#000" stroke-width="1.9" />
<line x1="1125.0" y1="357.9" x2="1134.1999999999998" y2="367.1" stroke="#000" stroke-width="1.9" />
<text x="1126.5" y="290.8" font-size="13.4" transform="rotate(-90 1126.5 290.8)" textLength="23.8" lengthAdjust="spacingAndGlyphs">1000</text>
<line x1="953" y1="382.3" x2="1114.6" y2="382.3" stroke="#000" stroke-width="1.4" />
<line x1="961.5" y1="362.5" x2="961.5" y2="390.4" stroke="#000" stroke-width="1.4" />
<line x1="1106" y1="362.5" x2="1106" y2="390.4" stroke="#000" stroke-width="1.4" />
<line x1="956.9" y1="386.90000000000003" x2="966.1" y2="377.7" stroke="#000" stroke-width="1.9" />
<line x1="1101.4" y1="386.90000000000003" x2="1110.6" y2="377.7" stroke="#000" stroke-width="1.9" />
<text x="1022.3" y="378" font-size="13.4" textLength="23.1" lengthAdjust="spacingAndGlyphs" >1160</text>
<text x="1217.7" y="146.7" font-size="17.7" textLength="301.8" lengthAdjust="spacingAndGlyphs" class="s16" >Габаритные размеры ТОПАС 6 Лонг Пр**:</text>
<text x="1217.7" y="186.2" font-size="17.7" textLength="44.9" lengthAdjust="spacingAndGlyphs" class="s16" >Длина</text>
<text x="1354.1" y="186.2" font-size="17.7" textLength="56.9" lengthAdjust="spacingAndGlyphs" class="s16" >1160 мм;</text>
<text x="1217.7" y="204.4" font-size="17.7" textLength="54.9" lengthAdjust="spacingAndGlyphs" class="s16" >Ширина</text>
<text x="1354.1" y="204.4" font-size="17.7" textLength="59.5" lengthAdjust="spacingAndGlyphs" class="s16" >1000 мм;</text>
<text x="1217.7" y="223.3" font-size="17.7" textLength="54.9" lengthAdjust="spacingAndGlyphs" class="s16" >Высота</text>
<text x="1354.1" y="223.3" font-size="17.7" textLength="59.5" lengthAdjust="spacingAndGlyphs" class="s16" >3100 мм;</text>
<text x="1217.7" y="242.3" font-size="17.7" textLength="72.8" lengthAdjust="spacingAndGlyphs" class="s16" >Вес, макс.</text>
<text x="1354.1" y="242.3" font-size="17.7" textLength="49.2" lengthAdjust="spacingAndGlyphs" class="s16" >355 кг.</text>
<text x="1217.7" y="280.5" font-size="17.7" textLength="162.6" lengthAdjust="spacingAndGlyphs" class="s16" >A – приемная камера;</text>
<text x="1217.7" y="299.3" font-size="17.7" textLength="103.6" lengthAdjust="spacingAndGlyphs" class="s16" >B – аэротенк;</text>
<text x="1217.7" y="318.3" font-size="17.7" textLength="194.9" lengthAdjust="spacingAndGlyphs" class="s16" >C – вторичный отстойник;</text>
<text x="1217.7" y="337.6" font-size="17.7" textLength="253.8" lengthAdjust="spacingAndGlyphs" class="s16" >D – стабилизатор активного ила;</text>
<text x="1217.7" y="356.7" font-size="17.7" textLength="189.0" lengthAdjust="spacingAndGlyphs" class="s16" >E – компрессорный отсек;</text>
<text x="1217.7" y="375.9" font-size="17.7" textLength="295.9" lengthAdjust="spacingAndGlyphs" class="s16" >F – накопительная емкость для насоса.</text>
<text x="905" y="429.4" font-size="14.9" textLength="638" lengthAdjust="spacingAndGlyphs" style="white-space:pre">1, 2 – варианты входа  стоков (ввод трубы монтируется при монтаже, либо, по желанию заказчика, на</text>
<text x="876.7" y="445.9" font-size="14.9" textLength="533.0" lengthAdjust="spacingAndGlyphs" >заводе изготовителя (в соответствии с размерами, указанными в заявке на врезку);</text>
<text x="907" y="462.3" font-size="14.9" textLength="657.8" lengthAdjust="spacingAndGlyphs" >Труба ø25 для выхода очищенной воды монтируется по месту, в любую сторону по усмотрению заказчика.</text>
<text x="905" y="494.7" font-size="14.9" textLength="616.5" lengthAdjust="spacingAndGlyphs" >Монтажные и земляные работы проводить согласно СП 129.13330.2011 “Наружные сети и сооружения</text>
<text x="876.7" y="510.6" font-size="14.9" textLength="197.7" lengthAdjust="spacingAndGlyphs" >водоснабжения и канализации”.</text>
<text x="905" y="693.5" font-size="14.9" textLength="278.8" lengthAdjust="spacingAndGlyphs" >ПРИ МОНТАЖЕ ОБРАТИТЬ ОСОБОЕ ВНИМАНИЕ:</text>
<text x="905" y="709.7" font-size="14.9" textLength="643" lengthAdjust="spacingAndGlyphs" >Разработку котлована производить при условии соблюдения правил техники безопасности проведения</text>
<text x="876.7" y="725.6" font-size="14.9" textLength="645.7" lengthAdjust="spacingAndGlyphs" >земляных работ, с соблюдением требований действующей нормативной документации. Монтаж станции</text>
<text x="876.7" y="741.6" font-size="14.9" textLength="679.9" lengthAdjust="spacingAndGlyphs" >производить на песчаную подсыпку, станцию не подвергать ударам, обсыпку производить вместе с заливкой</text>
<text x="876.7" y="757.6" font-size="14.9" textLength="412.1" lengthAdjust="spacingAndGlyphs" >одновременно для компенсации внутреннего и внешнего давления.</text>
<text x="905" y="803.6" font-size="14.9" textLength="649.3" lengthAdjust="spacingAndGlyphs" >*При определении отметки уровня земли предусмотреть будущее благоустройство участка, возможные</text>
<text x="876.7" y="820.2" font-size="14.9" textLength="529.3" lengthAdjust="spacingAndGlyphs" >ландшафтные работы (которые могут привести к изменению отметки уровня земли).</text>
<text x="905" y="836.4" font-size="14.9" textLength="452.3" lengthAdjust="spacingAndGlyphs" >**Производитель может изменить габариты продукции без уведомления.</text>
<text x="905" y="869.3" font-size="14.9" textLength="379.3" lengthAdjust="spacingAndGlyphs" >Расход песка не менее – 6,1 м³, расход воды не менее – 1,5 м³.</text>
<line x1="905" y1="872.2" x2="1284.3" y2="872.2" stroke="#000" stroke-width="1.4" />
<rect x="877.5" y="533.7" width="492.3" height="128.8" fill="none" stroke="#000" stroke-width="2.6" />
<line x1="877.5" y1="556.3" x2="1369.8" y2="556.3" stroke="#000" stroke-width="2.4" />
<line x1="877.5" y1="594.5" x2="1369.8" y2="594.5" stroke="#000" stroke-width="2.4" />
<line x1="877.5" y1="617.4" x2="1369.8" y2="617.4" stroke="#000" stroke-width="1.4" />
<line x1="877.5" y1="640.3" x2="1369.8" y2="640.3" stroke="#000" stroke-width="1.4" />
<line x1="1066.9" y1="556.3" x2="1066.9" y2="662.5" stroke="#000" stroke-width="2.2" />
<line x1="1218.1" y1="556.3" x2="1218.1" y2="662.5" stroke="#000" stroke-width="2.2" />
<line x1="1142.8" y1="594.5" x2="1142.8" y2="662.5" stroke="#000" stroke-width="1.4" />
<line x1="1294.3" y1="594.5" x2="1294.3" y2="662.5" stroke="#000" stroke-width="1.4" />
<text x="1057.2" y="550.5" font-size="14.9" textLength="133.5" lengthAdjust="spacingAndGlyphs" >Пояснение к схеме №1</text>
<text x="1076" y="573.3" font-size="14.9" textLength="129.3" lengthAdjust="spacingAndGlyphs" >От дна установки до</text>
<text x="1079.6" y="587.7" font-size="14.9" textLength="125.7" lengthAdjust="spacingAndGlyphs" >нижнего края трубы</text>
<text x="1220.6" y="573.3" font-size="14.9" textLength="146.7" lengthAdjust="spacingAndGlyphs" >От поверхности грунта</text>
<text x="1225" y="587.7" font-size="14.9" textLength="142.3" lengthAdjust="spacingAndGlyphs" >до нижнего края трубы</text>
<text x="1095.9" y="610.6" font-size="14.9" textLength="18.2" lengthAdjust="spacingAndGlyphs" >min</text>
<text x="1169.0" y="610.6" font-size="14.9" textLength="23.0" lengthAdjust="spacingAndGlyphs" >max</text>
<text x="1246.9" y="610.6" font-size="14.9" textLength="18.2" lengthAdjust="spacingAndGlyphs" >min</text>
<text x="1320.5" y="610.6" font-size="14.9" textLength="23.0" lengthAdjust="spacingAndGlyphs" >max</text>
<text x="914.7" y="633" font-size="14.9" textLength="115.3" lengthAdjust="spacingAndGlyphs" >Вход сточной воды</text>
<text x="902.5" y="655.8" font-size="14.9" textLength="138.9" lengthAdjust="spacingAndGlyphs" >Выход очищенной воды</text>
<text x="1092.0" y="633" font-size="14.4" textLength="26.0" lengthAdjust="spacingAndGlyphs" >1400</text>
<text x="1167.5" y="633" font-size="14.4" textLength="26.0" lengthAdjust="spacingAndGlyphs" >1800</text>
<text x="1243.0" y="633" font-size="14.4" textLength="26.0" lengthAdjust="spacingAndGlyphs" >1050</text>
<text x="1319.0" y="633" font-size="14.4" textLength="26.0" lengthAdjust="spacingAndGlyphs" >1450</text>
<text x="1091.5" y="655.8" font-size="14.4" textLength="27.0" lengthAdjust="spacingAndGlyphs" >2200</text>
<text x="1167.0" y="655.8" font-size="14.4" textLength="27.0" lengthAdjust="spacingAndGlyphs" >2800</text>
<text x="1249.5" y="655.8" font-size="14.4" textLength="13.0" lengthAdjust="spacingAndGlyphs" >50</text>
<text x="1322.25" y="655.8" font-size="14.4" textLength="19.5" lengthAdjust="spacingAndGlyphs" >650</text>
<text x="1170.4" y="998.9" font-size="20.6" textLength="168.3" lengthAdjust="spacingAndGlyphs" class="thin2" >Установка очистки</text>
<text x="1201.9" y="1013.9" font-size="20.6" textLength="104.5" lengthAdjust="spacingAndGlyphs" class="thin2" >сточных вод</text>
<text x="1195.6" y="1029.9" font-size="20.6" textLength="117.6" lengthAdjust="spacingAndGlyphs" class="thin2" >V=1,15 м3/сут</text>
<text x="1389.6" y="1069.6" font-size="21" textLength="182.8" lengthAdjust="spacingAndGlyphs" class="thin2" >ТОПОЛ–ЭКО/TOPOL–ECO</text>
<line x1="874" y1="882.4" x2="1577" y2="882.4" stroke="#000" stroke-width="2.6" />
<line x1="875.2" y1="881.2" x2="875.2" y2="1090" stroke="#000" stroke-width="2.5" />
<line x1="951" y1="881.2" x2="951" y2="1090" stroke="#000" stroke-width="2.5" />
<line x1="1026.4" y1="881.2" x2="1026.4" y2="1090" stroke="#000" stroke-width="2.5" />
<line x1="1083.2" y1="881.2" x2="1083.2" y2="1090" stroke="#000" stroke-width="2.5" />
<line x1="1121.8" y1="881.2" x2="1121.8" y2="1090" stroke="#000" stroke-width="2.5" />
<line x1="912.7" y1="881.2" x2="912.7" y2="977" stroke="#000" stroke-width="2.5" />
<line x1="988.5" y1="881.2" x2="988.5" y2="977" stroke="#000" stroke-width="2.5" />
<line x1="875.2" y1="901.3" x2="1121.8" y2="901.3" stroke="#000" stroke-width="1.6" />
<line x1="875.2" y1="920.1999999999999" x2="1121.8" y2="920.1999999999999" stroke="#000" stroke-width="1.1" />
<line x1="875.2" y1="939.1" x2="1121.8" y2="939.1" stroke="#000" stroke-width="1.6" />
<line x1="875.2" y1="958.0" x2="1121.8" y2="958.0" stroke="#000" stroke-width="2.5" />
<line x1="875.2" y1="976.9" x2="1121.8" y2="976.9" stroke="#000" stroke-width="2.5" />
<line x1="875.2" y1="995.8" x2="1121.8" y2="995.8" stroke="#000" stroke-width="1.6" />
<line x1="875.2" y1="1014.6999999999999" x2="1121.8" y2="1014.6999999999999" stroke="#000" stroke-width="1.1" />
<line x1="875.2" y1="1033.6" x2="1121.8" y2="1033.6" stroke="#000" stroke-width="1.6" />
<line x1="875.2" y1="1052.5" x2="1121.8" y2="1052.5" stroke="#000" stroke-width="1.6" />
<line x1="875.2" y1="1071.4" x2="1121.8" y2="1071.4" stroke="#000" stroke-width="1.6" />
<line x1="1121.8" y1="920" x2="1577" y2="920" stroke="#000" stroke-width="2.4" />
<line x1="1121.8" y1="976.6" x2="1577" y2="976.6" stroke="#000" stroke-width="2.5" />
<line x1="1121.8" y1="1033.7" x2="1577" y2="1033.7" stroke="#000" stroke-width="2.5" />
<line x1="1386.4" y1="976.6" x2="1386.4" y2="1090" stroke="#000" stroke-width="2.5" />
<line x1="1443" y1="976.6" x2="1443" y2="1033.7" stroke="#000" stroke-width="2.4" />
<line x1="1499.8" y1="976.6" x2="1499.8" y2="1033.7" stroke="#000" stroke-width="2.4" />
<line x1="1386.4" y1="995" x2="1577" y2="995" stroke="#000" stroke-width="2.3" />
<text x="881.5" y="972.3" font-size="14" textLength="24.7" lengthAdjust="spacingAndGlyphs" >Изм.</text>
<text x="916.5" y="972.3" font-size="14" textLength="31.2" lengthAdjust="spacingAndGlyphs" >Кол. уч.</text>
<text x="954.9" y="972.3" font-size="14" textLength="29.1" lengthAdjust="spacingAndGlyphs" font-style="italic">Лист</text>
<text x="991.8" y="972.3" font-size="14" textLength="31.7" lengthAdjust="spacingAndGlyphs" >№ док.</text>
<text x="1039" y="972.3" font-size="14" textLength="31.2" lengthAdjust="spacingAndGlyphs" >Подп.</text>
<text x="1087.3" y="972.3" font-size="14" textLength="29.6" lengthAdjust="spacingAndGlyphs" font-style="italic">Дата</text>
<text x="1391.9" y="991.2" font-size="14" textLength="45.3" lengthAdjust="spacingAndGlyphs" font-style="italic">Стадия</text>
<text x="1456.7" y="991.2" font-size="14" textLength="30.0" lengthAdjust="spacingAndGlyphs" font-style="italic">Лист</text>
<text x="1516.8" y="991.2" font-size="14" textLength="43.0" lengthAdjust="spacingAndGlyphs" font-style="italic">Листов</text>
<text x="1535.6" y="1019.6" font-size="14.3" textLength="6.0" lengthAdjust="spacingAndGlyphs" >1</text>
<text x="1181.5" y="1068" font-size="15" textLength="150.3" lengthAdjust="spacingAndGlyphs" font-weight="bold" class="mid" >ТОПАС/TOPAS 6 Лонг Пр</text>
<text x="1429" y="1105" font-size="14.3" textLength="47.6" lengthAdjust="spacingAndGlyphs" >Формат</text>
<text x="1521.8" y="1105" font-size="14.3" textLength="15.6" lengthAdjust="spacingAndGlyphs" >А3</text>
</svg>
</body></html>
